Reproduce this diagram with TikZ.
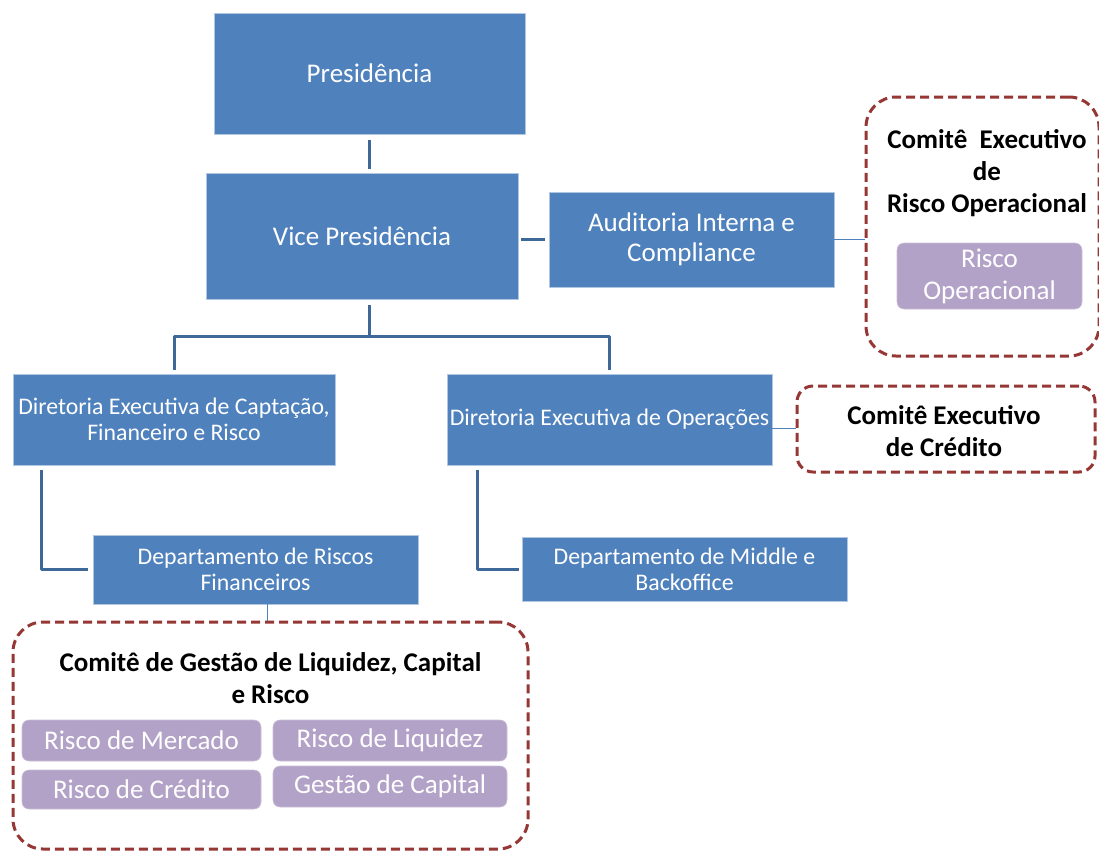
\documentclass[tikz,border=0pt]{standalone}
\usepackage{fontspec}
\setmainfont{Carlito}
\definecolor{azul}{HTML}{4F81BD}
\definecolor{azulesc}{HTML}{3E6898}
\definecolor{vinho}{HTML}{953735}
\definecolor{lilas}{HTML}{B3A2C7}
\begin{document}
\begin{tikzpicture}[x=1pt, y=-1pt, line join=round,
  cargo/.style={fill=azul, draw=azul!45, line width=.8pt, text=white, align=center, inner sep=0pt, font=\fontsize{27}{30}\selectfont},
  diretoria/.style={cargo, font=\fontsize{23.8}{26}\selectfont},
  comite/.style={draw=vinho, line width=3pt, dash pattern=on 9pt off 5pt, rounded corners=30pt, inner sep=0pt},
  titulo/.style={align=center, font=\fontsize{27}{32}\selectfont\bfseries},
  risco/.style={fill=lilas, draw=lilas!70!white, line width=.6pt, rounded corners=7pt, text=white, align=center, inner sep=0pt, font=\fontsize{27}{32}\selectfont},
  liga/.style={draw=azulesc, line width=3pt},
  ligafina/.style={draw=azul, line width=1.5pt}]
\useasboundingbox (0,0) rectangle (1099,852);
\clip (0,0) rectangle (1099,852);
%Cargos
\node[cargo, minimum width=311pt, minimum height=121pt] (pres) at (369.5,73.5) {Presidência};
\node[cargo, minimum width=312pt, minimum height=126pt] (vice) at (362,236) {Vice Presidência};
\node[cargo, minimum width=285pt, minimum height=95pt] (audit) at (691.5,239.5) {Auditoria Interna e\\Compliance};
\node[diretoria, minimum width=322pt, minimum height=91pt] (capt) at (174,419.5) {Diretoria Executiva de Captação,\\Financeiro e Risco};
\node[diretoria, minimum width=325pt, minimum height=91pt] (oper) at (609.5,419.5) {Diretoria Executiva de Operações};
\node[diretoria, minimum width=325pt, minimum height=69pt] (depRisco) at (255.5,569.5) {Departamento de Riscos\\Financeiros};
\node[diretoria, minimum width=325pt, minimum height=64pt] (depMid) at (684.5,569) {Departamento de Middle e\\Backoffice};
%Comitês
\node[comite, minimum width=233pt, minimum height=259pt] (comOp) at (982.5,226.5) {};
\node[titulo] (tOp) at (987,173) {Comitê\ \ Executivo\\de\\Risco Operacional};
\node[risco, minimum width=185pt, minimum height=66pt] (rOp) at (989.5,276) {Risco\\Operacional};
\node[comite, rounded corners=16pt, minimum width=298pt, minimum height=86pt] (comCred) at (946,429) {};
\node[titulo] (tCred) at (944,431) {Comitê Executivo\\de Crédito};
\node[comite, minimum width=515pt, minimum height=227pt] (comGest) at (270.5,735.5) {};
\node[titulo] (tGest) at (270.5,678) {Comitê de Gestão de Liquidez, Capital\\e Risco};
\node[risco, minimum width=239pt, minimum height=41pt] (rMerc) at (141.5,740.5) {Risco de Mercado};
\node[risco, minimum width=234pt, minimum height=41pt] (rLiq) at (390,740.5) {Risco de Liquidez};
\node[risco, minimum width=239pt, minimum height=39pt] (rCred) at (141.5,789.5) {Risco de Crédito};
\node[risco, minimum width=234pt, minimum height=41pt] (rCap) at (390,786.5) {Gestão de Capital};
%Ligações
\coordinate (barra) at ([yshift=-37pt]pres.south |- vice.south);
\draw[liga] ([yshift=-6pt]pres.south) -- ([yshift=4pt]pres.south |- vice.north);
\draw[liga] ([yshift=-6pt]pres.south |- vice.south) -- (barra);
\draw[liga] ([yshift=4pt]capt.north) |- (barra) -| ([yshift=4pt]oper.north);
\draw[liga] ([xshift=3pt]vice.east |- audit.west) -- ([xshift=-4pt]audit.west);
\draw[ligafina] (audit.east) -- (audit.east -| comOp.west);
\draw[ligafina] ([yshift=-9pt]oper.east) -- ([yshift=-9pt]oper.east -| comCred.west);
\draw[liga] ([shift={(29pt,-5pt)}]capt.south west) |- ([xshift=-5pt]depRisco.west);
\draw[liga] ([shift={(31pt,-5pt)}]oper.south west) |- ([xshift=-3pt]depMid.west);
\draw[ligafina] ([xshift=12pt]depRisco.south) -- ([xshift=12pt]depRisco.south |- comGest.north);
\end{tikzpicture}
\end{document}
